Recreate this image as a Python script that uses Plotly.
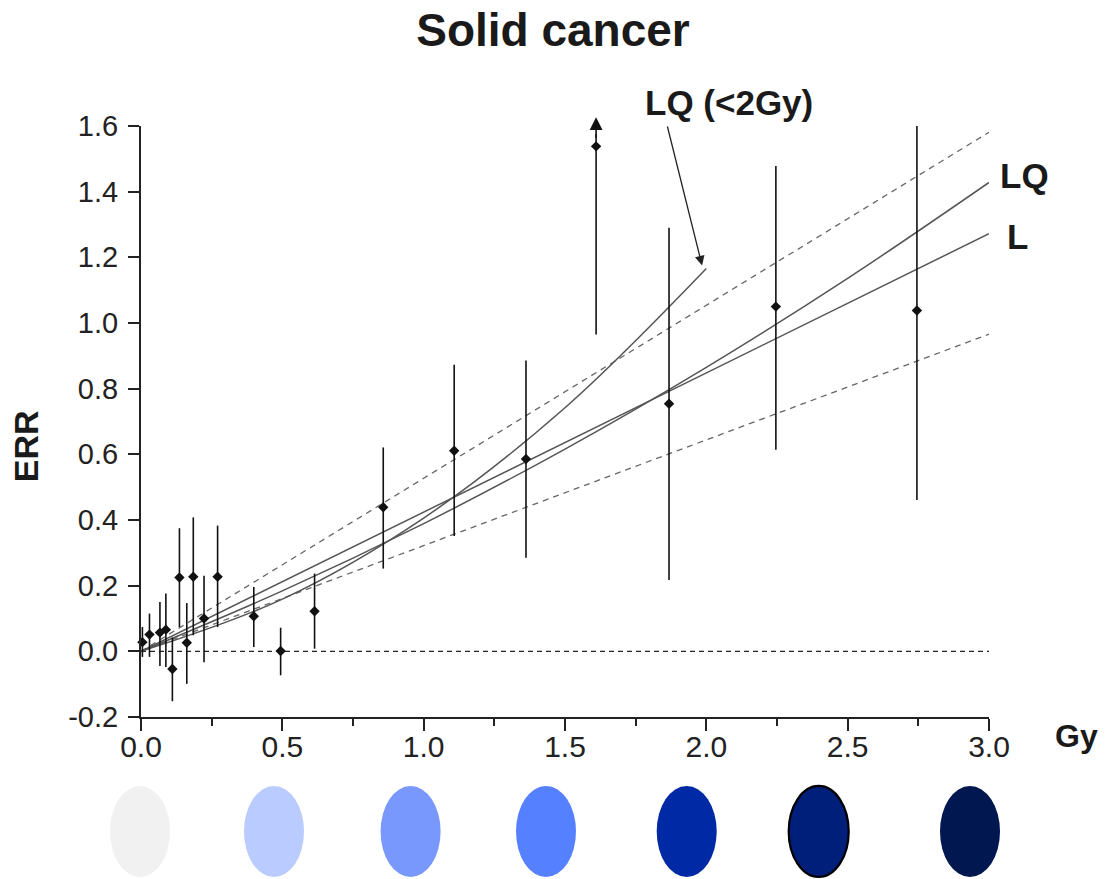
import plotly.graph_objects as go

# ---- data ----
dose = [0.005, 0.030, 0.067, 0.088, 0.111, 0.136, 0.162, 0.185, 0.223, 0.271,
        0.399, 0.494, 0.614, 0.857, 1.108, 1.362, 1.610, 1.868, 2.246, 2.745]
err = [0.028, 0.051, 0.057, 0.066, -0.054, 0.225, 0.026, 0.227, 0.100, 0.227,
       0.107, 0.001, 0.122, 0.439, 0.611, 0.586, 1.538, 0.754, 1.050, 1.038]
ci_low = [-0.017, -0.017, -0.045, -0.048, -0.152, 0.074, -0.099, 0.049, -0.033, 0.074,
          0.013, -0.073, 0.008, 0.252, 0.351, 0.285, 0.965, 0.217, 0.614, 0.461]
ci_high = [0.074, 0.115, 0.150, 0.176, 0.042, 0.375, 0.147, 0.408, 0.230, 0.383,
           0.196, 0.072, 0.237, 0.621, 0.873, 0.886, 1.575, 1.290, 1.478, 1.603]

lin_dose = [0.0, 3.0]
lin_err = [0.0, 1.272]
lin_upper = [0.0, 1.581]
lin_lower = [0.0, 0.966]

lq_dose = [0.0, 0.5, 1.0, 1.5, 2.0, 2.5, 3.0]
lq_err = [0.0, 0.184, 0.389, 0.616, 0.865, 1.136, 1.428]

lq2_dose = [0.0, 0.5, 1.0, 1.5, 2.0]
lq2_err = [0.0, 0.159, 0.406, 0.742, 1.166]

zero_dose = [0.0, 3.0]
zero_err = [0.0, 0.0]

x_ticks = [0.0, 0.5, 1.0, 1.5, 2.0, 2.5, 3.0]
y_ticks = [-0.2, 0.0, 0.2, 0.4, 0.6, 0.8, 1.0, 1.2, 1.4, 1.6]

ellipse_colors = ["#f1f1f1", "#b9cbff", "#7898fe", "#5580ff", "#0029a5", "#001f7b", "#00174f"]

FONT = "Liberation Sans, Arial, sans-serif"

# ---- layout geometry (reference pixels) ----
W, H = 1105, 879
PL, PR, PT, PB = 141, 989, 126, 716.6      # plot area in reference pixels
PW = PR - PL
PH = PB - PT
margin = dict(l=PL, r=W - PR, t=PT, b=H - PB, pad=0)


def px2paper_x(px):
    return (px - PL) / PW


def px2paper_y(py):
    return (PB - py) / PH


fig = go.Figure()

# zero reference line
fig.add_trace(go.Scatter(x=zero_dose, y=zero_err, mode="lines",
                         line=dict(color="#222", width=1.2, dash="5px,4px"),
                         hoverinfo="skip", showlegend=False))
# confidence bounds of linear fit
for yy in (lin_upper, lin_lower):
    fig.add_trace(go.Scatter(x=lin_dose, y=yy, mode="lines",
                             line=dict(color="#666", width=1.3, dash="6px,5px"),
                             hoverinfo="skip", showlegend=False))
# L fit
fig.add_trace(go.Scatter(x=lin_dose, y=lin_err, mode="lines",
                         line=dict(color="#555", width=1.5),
                         hoverinfo="skip", showlegend=False))
# LQ fit
fig.add_trace(go.Scatter(x=lq_dose, y=lq_err, mode="lines",
                         line=dict(color="#555", width=1.5, shape="spline", smoothing=1),
                         hoverinfo="skip", showlegend=False))
# LQ (<2Gy) fit
fig.add_trace(go.Scatter(x=lq2_dose, y=lq2_err, mode="lines",
                         line=dict(color="#555", width=1.5, shape="spline", smoothing=1),
                         hoverinfo="skip", showlegend=False))

# data points with CI
plus = [h - e for h, e in zip(ci_high, err)]
minus = [e - l for e, l in zip(err, ci_low)]
fig.add_trace(go.Scatter(x=dose, y=err, mode="markers",
                         marker=dict(symbol="diamond", size=8, color="#111"),
                         error_y=dict(type="data", symmetric=False, array=plus, arrayminus=minus,
                                      color="#111", thickness=1.6, width=0),
                         cliponaxis=False, showlegend=False))

# upward arrow on the high point
fig.add_annotation(x=dose[16], y=1.627, ax=dose[16], ay=1.56, xref="x", yref="y",
                   axref="x", ayref="y", text="", showarrow=True,
                   arrowhead=2, arrowsize=1.6, arrowwidth=1.6, arrowcolor="#111")

# LQ (<2Gy) arrow
fig.add_annotation(x=1.985, y=1.175, ax=1.861, ay=1.603, xref="x", yref="y",
                   axref="x", ayref="y", text="", showarrow=True,
                   arrowhead=2, arrowsize=1.5, arrowwidth=1.3, arrowcolor="#222")

# text labels (paper coordinates, centred)
labels = [
    ("<b>LQ (&lt;2Gy)</b>", 729, 103, 35, 0),
    ("<b>LQ</b>", 1024, 175, 35, 0),
    ("<b>L</b>", 1018, 236, 35, 0),
    ("<b>ERR</b>", 26, 446, 34, -90),
    ("<b>Gy</b>", 1076, 736, 32, 0),
]
for txt, lx, ly, fs, ang in labels:
    fig.add_annotation(x=px2paper_x(lx), y=px2paper_y(ly), xref="paper", yref="paper",
                       xanchor="center", yanchor="middle", text=txt, textangle=ang,
                       showarrow=False, font=dict(family=FONT, size=fs, color="#1a1a1a"))

# coloured ellipses below the axis
ell_cx = [140, 274, 410.6, 546, 686.7, 818.7, 970]
for i, (cx, col) in enumerate(zip(ell_cx, ellipse_colors)):
    fig.add_shape(type="circle", xref="paper", yref="paper",
                  x0=px2paper_x(cx - 30), x1=px2paper_x(cx + 30),
                  y0=px2paper_y(876.5), y1=px2paper_y(785.5),
                  fillcolor=col,
                  line=dict(color="#000" if i == 5 else col, width=2.2 if i == 5 else 0))

fig.update_layout(
    width=W, height=H,
    margin=margin,
    paper_bgcolor="white", plot_bgcolor="white",
    title=dict(text="<b>Solid cancer</b>", x=553 / W, xanchor="center",
               y=1 - 30 / H, yanchor="middle", yref="container",
               font=dict(family=FONT, size=46, color="#1a1a1a")),
    font=dict(family=FONT, color="#222"),
    showlegend=False,
)
fig.update_xaxes(range=[0, 3.0], showgrid=False, zeroline=False,
                 showline=True, linecolor="#222", linewidth=2,
                 ticks="outside", ticklen=12, tickwidth=2, tickcolor="#222",
                 tickvals=x_ticks, ticktext=[f"{v:.1f}" for v in x_ticks],
                 ticklabelstandoff=-10,
                 tickfont=dict(family=FONT, size=30, color="#222"),
                 minor=dict(ticks="outside", ticklen=7, tickwidth=2, tickcolor="#222", dtick=0.25))
fig.update_yaxes(range=[-0.2, 1.6], showgrid=False, zeroline=False,
                 showline=True, linecolor="#222", linewidth=2,
                 ticks="outside", ticklen=11, tickwidth=2, tickcolor="#222",
                 tickvals=y_ticks, ticktext=[f"{v:.1f}" for v in y_ticks],
                 ticklabelstandoff=4,
                 tickfont=dict(family=FONT, size=29, color="#222"))

fig.write_html("out.html", config={"displayModeBar": False},
               post_script="document.body.style.margin='0';document.body.style.overflow='hidden';")
